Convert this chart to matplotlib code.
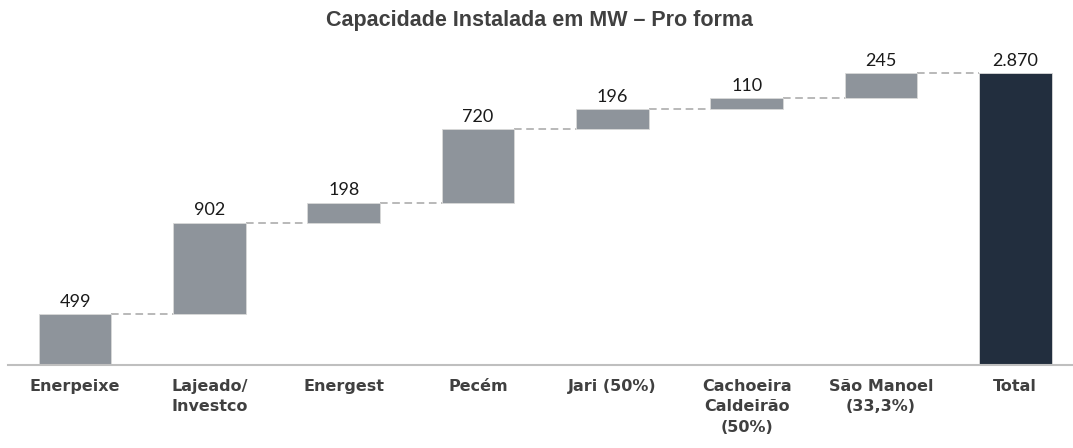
import matplotlib
matplotlib.use("Agg")
import matplotlib.pyplot as plt

categories = ["Enerpeixe", "Lajeado/\nInvestco", "Energest", "Pecém", "Jari (50%)",
              "Cachoeira\nCaldeirão\n(50%)", "São Manoel\n(33,3%)", "Total"]
values = [499, 902, 198, 720, 196, 110, 245]
total = 2870
labels = ["499", "902", "198", "720", "196", "110", "245", "2.870"]

fig = plt.figure(figsize=(10.73, 4.48), dpi=100)
ax = fig.add_axes([8 / 1073, 83 / 448, 1065 / 1073, 315 / 448])

bottoms = []
run = 0
for v in values:
    bottoms.append(run)
    run += v
heights = values + [total]
bottoms = bottoms + [0]
colors = ["#8e949b"] * len(values) + ["#222e3e"]

x = list(range(len(categories)))
w = 0.54
ax.bar(x, heights, bottom=bottoms, width=w, color=colors, edgecolor="#d9d9d9",
       linewidth=0.6, zorder=2)

# connectors
for i in range(len(categories) - 1):
    top = bottoms[i] + heights[i]
    ax.plot([i + w / 2, i + 1 - w / 2], [top, top], ls=(0, (5, 3)), color="#a6a6a6",
            lw=1.1, zorder=1)

for i, lab in enumerate(labels):
    ax.annotate(lab, (i, bottoms[i] + heights[i]), xytext=(0, 3), textcoords="offset points",
                ha="center", va="bottom", fontsize=13, family="Lato", color="#1a1a1a")

ax.set_xlim(-0.5, 7.43)
ax.set_ylim(0, 3100)
ax.set_xticks(x)
ax.set_xticklabels(categories, fontsize=11.5, family="DejaVu Sans", fontweight="bold",
                   color="#404040", linespacing=1.45)
ax.tick_params(axis="x", length=0, pad=10)
ax.set_yticks([])
for s in ["top", "left", "right"]:
    ax.spines[s].set_visible(False)
ax.spines["bottom"].set_color("#bfbfbf")
ax.spines["bottom"].set_linewidth(1.5)

fig.text(0.5025, 0.955, "Capacidade Instalada em MW – Pro forma", ha="center", va="center",
         fontsize=15.5, fontweight="bold", family="Liberation Sans", color="#404040")

fig.savefig("out.png", dpi=100)
